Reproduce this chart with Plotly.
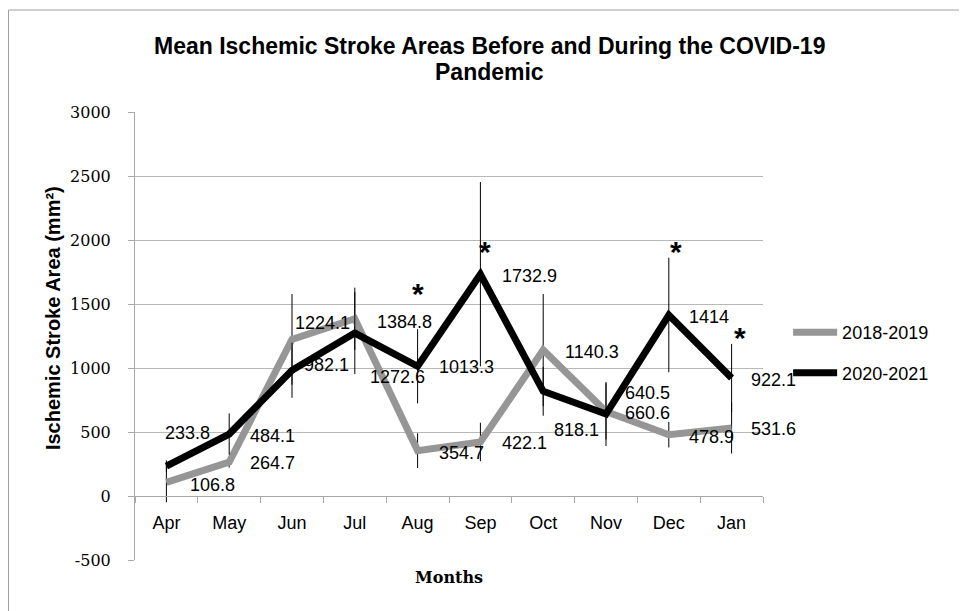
import plotly.graph_objects as go

months = ["Apr", "May", "Jun", "Jul", "Aug", "Sep", "Oct", "Nov", "Dec", "Jan"]
series_names = ["2018-2019", "2020-2021"]
vals_2018 = [106.8, 264.7, 1224.1, 1384.8, 354.7, 422.1, 1140.3, 660.6, 478.9, 531.6]
vals_2020 = [233.8, 484.1, 982.1, 1272.6, 1013.3, 1732.9, 818.1, 640.5, 1414, 922.1]
err_2018 = [156, 42, 354, 243, 136, 150, 438, 220, 100, 200]
err_2020 = [45, 161, 215, 320, 290, 720, 191, 250, 447, 266]
sig_months = ["Aug", "Sep", "Dec", "Jan"]
y_ticks = [-500, 0, 500, 1000, 1500, 2000, 2500, 3000]
title_lines = ["Mean Ischemic Stroke Areas Before and During the COVID-19", "Pandemic"]

# label placement offsets (pixels: dx to left edge, dy downward)
lab_off_2018 = [(22, 3), (19, 1), (1, -16), (20, 3), (19, 2), (20, 1), (20, 2), (17, 2), (18, 2), (17, 1)]
lab_off_2020 = [(-3, -33), (19, 2), (10, -5), (13, 44), (19, 1), (20, 2), (9, 39), (17, -21), (18, 2), (17, 2)]
star_off = {"Aug": (0, -76), "Sep": (5, -26), "Dec": (7, -67), "Jan": (8, -43)}

GRAY = "#969696"
AX = "#a8a8a8"
SANS = "Liberation Sans, Arial, sans-serif"

fig = go.Figure()
fig.add_trace(go.Scatter(
    x=months, y=vals_2018, name=series_names[0], mode="lines",
    line=dict(color=GRAY, width=7),
    error_y=dict(type="data", array=err_2018, visible=True, color="black", thickness=1, width=0),
    legendgroup="a",
))
fig.add_trace(go.Scatter(
    x=months, y=vals_2020, name=series_names[1], mode="lines",
    line=dict(color="black", width=7),
    error_y=dict(type="data", array=err_2020, visible=True, color="black", thickness=1, width=0),
    legendgroup="b",
))

annotations = []
for vals, offs in ((vals_2018, lab_off_2018), (vals_2020, lab_off_2020)):
    for m, v, (dx, dy) in zip(months, vals, offs):
        annotations.append(dict(
            x=m, y=v, xref="x", yref="y", text=f"{v:g}", showarrow=False,
            xanchor="left", yanchor="middle", xshift=dx, yshift=-dy,
            font=dict(family=SANS, size=18, color="black"),
        ))
for m in sig_months:
    i = months.index(m)
    dx, dy = star_off[m]
    annotations.append(dict(
        x=m, y=vals_2020[i], xref="x", yref="y", text="<b>*</b>", showarrow=False,
        xanchor="center", yanchor="middle", xshift=dx, yshift=-dy - 3,
        font=dict(family=SANS, size=30, color="black"),
    ))
annotations.append(dict(
    x=0.5, y=-0.038, xref="paper", yref="paper", text="<b>Months</b>", showarrow=False,
    xanchor="center", yanchor="middle",
    font=dict(family="DejaVu Serif, serif", size=16, color="black"),
))
annotations.append(dict(
    x=-0.1306, y=0.54, xref="paper", yref="paper",
    text="<b>Ischemic Stroke Area (mm²)</b>", showarrow=False, textangle=-90,
    xanchor="center", yanchor="middle",
    font=dict(family=SANS, size=20, color="black"),
))
for line, yp in zip(title_lines, (1.147, 1.089)):
    annotations.append(dict(
        x=0.565, y=yp, xref="paper", yref="paper", text=f"<b>{line}</b>", showarrow=False,
        xanchor="center", yanchor="middle",
        font=dict(family=SANS, size=23, color="black"),
    ))

fig.update_layout(
    width=959, height=603,
    margin=dict(l=127, r=204, t=104, b=51),
    paper_bgcolor="white", plot_bgcolor="white",
    xaxis=dict(
        type="category", range=[-0.5, 9.5], anchor="free", position=500 / 3500,
        showline=True, linecolor=AX, linewidth=1,
        ticks="outside", tickson="boundaries", ticklen=6, tickcolor=AX,
        showgrid=False, zeroline=False,
        tickfont=dict(family=SANS, size=18, color="black"),
        ticklabelstandoff=10,
    ),
    yaxis=dict(
        range=[-500, 3000], tickvals=y_ticks, ticktext=[str(t) for t in y_ticks],
        showline=True, linecolor=AX, linewidth=1,
        ticks="outside", ticklen=6, tickcolor=AX, ticklabelstandoff=14,
        showgrid=True, gridcolor="#b8b8b8", gridwidth=1, zeroline=False,
        tickfont=dict(family="DejaVu Serif, serif", size=16, color="black"),
    ),
    legend=dict(
        x=1.04, y=0.549, xanchor="left", yanchor="top",
        font=dict(family=SANS, size=18, color="black"),
        tracegroupgap=14, traceorder="grouped", bgcolor="rgba(0,0,0,0)",
        itemwidth=44,
    ),
    annotations=annotations,
    shapes=[dict(
        type="rect", xref="paper", yref="paper",
        x0=(8.5 - 135) / 628, x1=(960 - 135) / 628, y0=(560 - 620) / 448, y1=(560 - 10) / 448,
        line=dict(color="#a0a0a0", width=1), fillcolor="rgba(0,0,0,0)", layer="below",
    )],
)

fig.write_html("out.html")
